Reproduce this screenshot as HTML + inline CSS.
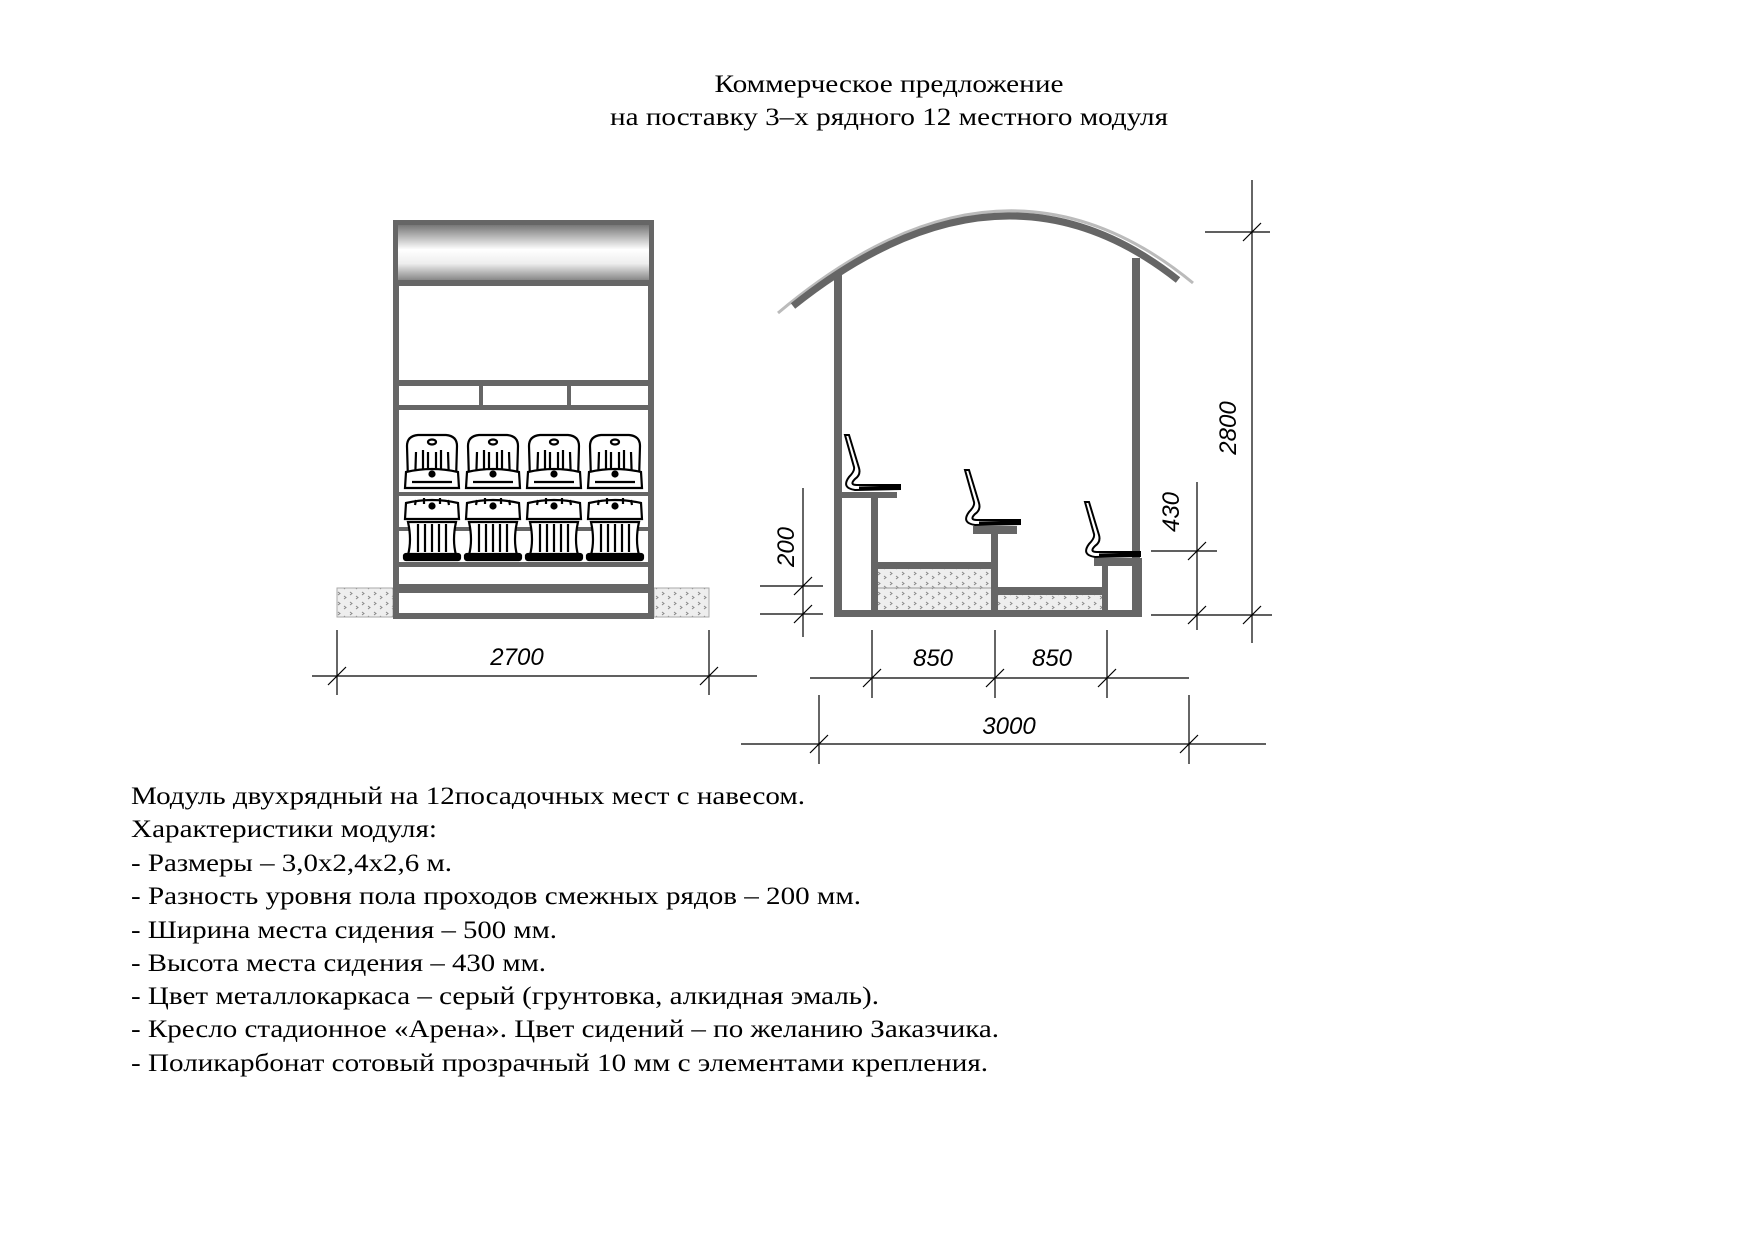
<!DOCTYPE html>
<html><head><meta charset="utf-8"><style>
html,body{margin:0;padding:0;background:#fff;}
svg{display:block;}
text{font-family:"Liberation Serif",serif;}
.d{font-family:"Liberation Sans",sans-serif;font-style:italic;font-size:24px;fill:#000;}
</style></head><body>
<svg width="1754" height="1240" viewBox="0 0 1754 1240" xmlns="http://www.w3.org/2000/svg">
<defs>
<linearGradient id="g" x1="0" y1="0" x2="0" y2="1">
<stop offset="0" stop-color="#777"/><stop offset="0.45" stop-color="#fff"/><stop offset="0.7" stop-color="#eee"/><stop offset="1" stop-color="#888"/>
</linearGradient>
<pattern id="h" width="12" height="10" patternUnits="userSpaceOnUse">
<rect width="12" height="10" fill="#eee"/>
<path d="M2,2 l2,1.5 l-2,1.5 M8,6 l2,1.5 l-2,1.5" stroke="#888" stroke-width="1" fill="none"/>
</pattern>
<g id="chair" fill="#fff" stroke="#000" stroke-width="2.2">
<path d="M-24,480 L-25,446 Q-25,436 -14,435 L14,435 Q25,436 25,446 L24,480 Z"/>
<ellipse cx="0" cy="442" rx="4" ry="2.5"/>
<path d="M-16,452 L-17,484 M-9,450 L-9,484 M-4,452 L-4,484 M4,452 L4,484 M9,450 L9,484 M16,452 L17,484" fill="none"/>
<path d="M-27,488 L-26,472 Q0,466 26,472 L27,488 Z"/>
<path d="M-20,482 L20,482" />
<circle cx="0" cy="474" r="2.5" fill="#000"/>
<path d="M-27,519 L-26,503 Q0,497 26,503 L27,519 Z"/>
<circle cx="0" cy="506" r="2.5" fill="#000"/>
<path d="M-16,500 L-17,505 M16,500 L17,505 M-8,498 L-8,504 M8,498 L8,504" fill="none"/>
<path d="M-24,522 Q-20,540 -24,555 L24,555 Q20,540 24,522 Z"/>
<path d="M-14,524 L-14,552 M-7,524 L-7,552 M0,524 L0,552 M7,524 L7,552 M14,524 L14,552" fill="none"/>
<rect x="-28" y="554" width="56" height="6" rx="2" fill="#000"/>
</g>
<g id="side" stroke="#000" stroke-width="2">
<path d="M0,0 L4,0 L14,33 Q16,40 10,44 Q4,50 12,50 L55,50 L55,54 L10,55 Q-4,53 4,42 Q10,36 9,32 Z" fill="#fff"/>
<path d="M14,53 L55,52" stroke-width="3" fill="none"/>
</g>
</defs>

<!-- Title -->
<text x="889" y="92" font-size="25" text-anchor="middle" textLength="349" lengthAdjust="spacingAndGlyphs">Коммерческое предложение</text>
<text x="889" y="125" font-size="25" text-anchor="middle" textLength="558" lengthAdjust="spacingAndGlyphs">на поставку 3–х рядного 12 местного модуля</text>

<!-- Front view -->
<rect x="337" y="588" width="56" height="29" fill="url(#h)" stroke="#aaa"/>
<rect x="654" y="588" width="55" height="29" fill="url(#h)" stroke="#aaa"/>
<rect x="396" y="223" width="255" height="393" fill="#fff" stroke="#666" stroke-width="6"/>
<rect x="398" y="225" width="251" height="55" fill="url(#g)"/>
<rect x="396" y="280" width="255" height="6" fill="#666"/>
<rect x="396" y="380" width="255" height="6" fill="#666"/>
<rect x="396" y="405" width="255" height="5" fill="#666"/>
<rect x="479" y="383" width="4" height="25" fill="#666"/>
<rect x="567" y="383" width="4" height="25" fill="#666"/>
<rect x="396" y="492" width="255" height="4" fill="#666"/>
<rect x="396" y="527" width="255" height="4" fill="#666"/>
<rect x="396" y="562" width="255" height="5" fill="#666"/>
<rect x="396" y="584" width="255" height="9" fill="#666"/>
<use href="#chair" x="432"/><use href="#chair" x="493"/><use href="#chair" x="554"/><use href="#chair" x="615"/>

<!-- 2700 dim -->
<g stroke="#000" stroke-width="1.2">
<line x1="312" y1="676" x2="757" y2="676"/>
<line x1="337" y1="630" x2="337" y2="695"/><line x1="709" y1="630" x2="709" y2="695"/>
<line x1="328" y1="685" x2="346" y2="667"/><line x1="700" y1="685" x2="718" y2="667"/>
</g>
<text class="d" x="517" y="665" text-anchor="middle">2700</text>

<!-- Side view -->
<path d="M778,313 Q1001,125 1193,283" fill="none" stroke="#bbb" stroke-width="3"/>
<path d="M793,306 Q1001,140 1178,280" fill="none" stroke="#666" stroke-width="7"/>
<g fill="#666">
<rect x="834" y="275" width="8" height="342"/>
<rect x="1132" y="258" width="8" height="359"/>
<rect x="834" y="610" width="308" height="7"/>
<rect x="834" y="492" width="63" height="6"/>
<rect x="871" y="492" width="7" height="125"/>
<rect x="871" y="562" width="122" height="7"/>
<rect x="991" y="527" width="7" height="90"/>
<rect x="973" y="526" width="44" height="8"/>
<rect x="993" y="587" width="115" height="8"/>
<rect x="1102" y="558" width="6" height="59"/>
<rect x="1094" y="558" width="48" height="8"/>
<rect x="1134" y="558" width="8" height="59"/>
</g>
<rect x="878" y="569" width="113" height="41" fill="url(#h)"/>
<line x1="878" y1="588" x2="991" y2="588" stroke="#999"/>
<rect x="998" y="595" width="104" height="15" fill="url(#h)"/>
<use href="#side" x="845" y="435"/>
<use href="#side" x="965" y="470"/>
<use href="#side" x="1085" y="502"/>

<g stroke="#000" stroke-width="1.2">
<!-- 200 -->
<line x1="803" y1="488" x2="803" y2="637"/>
<line x1="760" y1="586" x2="823" y2="586"/><line x1="760" y1="614" x2="823" y2="614"/>
<line x1="794" y1="595" x2="812" y2="577"/><line x1="794" y1="623" x2="812" y2="605"/>
<!-- 850s -->
<line x1="810" y1="678" x2="1189" y2="678"/>
<line x1="872" y1="630" x2="872" y2="698"/><line x1="995" y1="630" x2="995" y2="698"/><line x1="1107" y1="630" x2="1107" y2="698"/>
<line x1="863" y1="687" x2="881" y2="669"/><line x1="986" y1="687" x2="1004" y2="669"/><line x1="1098" y1="687" x2="1116" y2="669"/>
<!-- 3000 -->
<line x1="741" y1="744" x2="1266" y2="744"/>
<line x1="819" y1="695" x2="819" y2="764"/><line x1="1189" y1="695" x2="1189" y2="764"/>
<line x1="810" y1="753" x2="828" y2="735"/><line x1="1180" y1="753" x2="1198" y2="735"/>
<!-- 430 -->
<line x1="1197" y1="482" x2="1197" y2="630"/>
<line x1="1151" y1="551" x2="1217" y2="551"/><line x1="1151" y1="615" x2="1272" y2="615"/>
<line x1="1188" y1="560" x2="1206" y2="542"/><line x1="1188" y1="624" x2="1206" y2="606"/>
<!-- 2800 -->
<line x1="1252" y1="180" x2="1252" y2="643"/>
<line x1="1205" y1="232" x2="1270" y2="232"/>
<line x1="1243" y1="241" x2="1261" y2="223"/><line x1="1243" y1="624" x2="1261" y2="606"/>
</g>
<text class="d" x="933" y="666" text-anchor="middle">850</text>
<text class="d" x="1052" y="666" text-anchor="middle">850</text>
<text class="d" x="1009" y="734" text-anchor="middle">3000</text>
<text class="d" transform="translate(794,547) rotate(-90)" text-anchor="middle">200</text>
<text class="d" transform="translate(1179,512) rotate(-90)" text-anchor="middle">430</text>
<text class="d" transform="translate(1236,428) rotate(-90)" text-anchor="middle">2800</text>

<!-- Body text -->
<g font-size="25">
<text x="131" y="804" textLength="674" lengthAdjust="spacingAndGlyphs">Модуль двухрядный на 12посадочных мест с навесом.</text>
<text x="131" y="837" textLength="306" lengthAdjust="spacingAndGlyphs">Характеристики модуля:</text>
<text x="131" y="871" textLength="321" lengthAdjust="spacingAndGlyphs">- Размеры – 3,0х2,4х2,6 м.</text>
<text x="131" y="904" textLength="730" lengthAdjust="spacingAndGlyphs">- Разность уровня пола проходов смежных рядов – 200 мм.</text>
<text x="131" y="938" textLength="426" lengthAdjust="spacingAndGlyphs">- Ширина места сидения – 500 мм.</text>
<text x="131" y="971" textLength="415" lengthAdjust="spacingAndGlyphs">- Высота места сидения – 430 мм.</text>
<text x="131" y="1004" textLength="748" lengthAdjust="spacingAndGlyphs">- Цвет металлокаркаса – серый (грунтовка, алкидная эмаль).</text>
<text x="131" y="1037" textLength="868" lengthAdjust="spacingAndGlyphs">- Кресло стадионное «Арена». Цвет сидений – по желанию Заказчика.</text>
<text x="131" y="1071" textLength="857" lengthAdjust="spacingAndGlyphs">- Поликарбонат сотовый прозрачный 10 мм с элементами крепления.</text>
</g>
</svg>
</body></html>
